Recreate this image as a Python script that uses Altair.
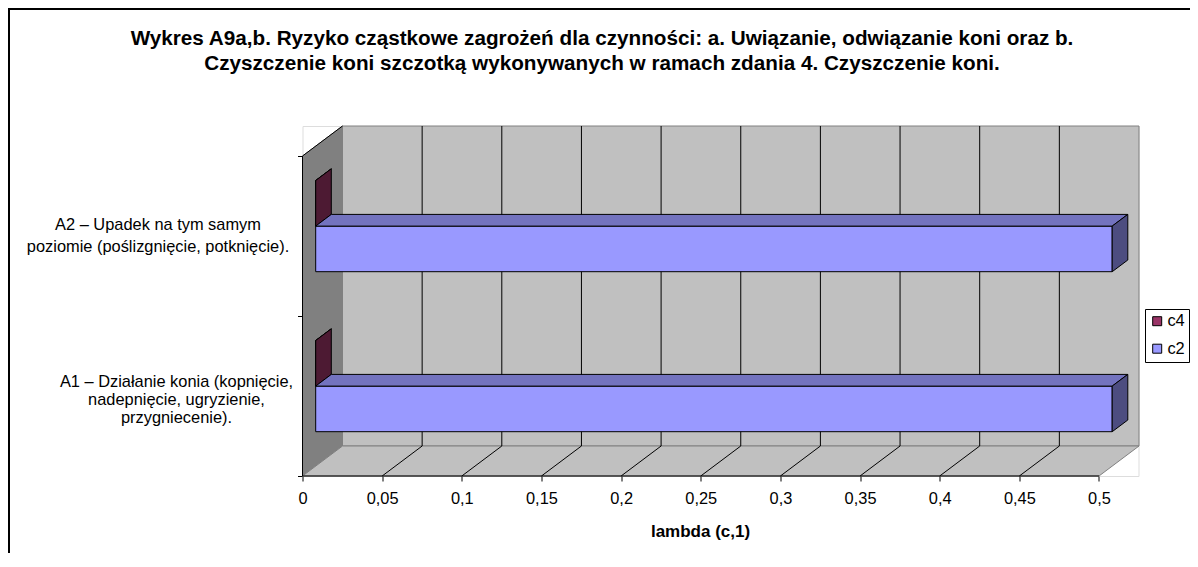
import altair as alt
import pandas as pd

# ------------------------------------------------------------------ data
categories = ["A1", "A2"]
category_labels = [
    "A1 – Działanie konia (kopnięcie,\nnadepnięcie, ugryzienie,\nprzygniecenie).",
    "A2 – Upadek na tym samym\npoziomie (poślizgnięcie, potknięcie).",
]
series = ["c4", "c2"]
c4_values = [0.0, 0.0]
c2_values = [0.5, 0.5]
x_ticks = [0, 0.05, 0.1, 0.15, 0.2, 0.25, 0.3, 0.35, 0.4, 0.45, 0.5]
x_title = "lambda (c,1)"
title_lines = [
    "Wykres A9a,b. Ryzyko cząstkowe zagrożeń dla czynności: a. Uwiązanie, odwiązanie koni oraz b.",
    "Czyszczenie koni szczotką wykonywanych w ramach zdania 4. Czyszczenie koni.",
]
series_colors = {"c4": "#993366", "c2": "#9999FF"}
top_colors = {"c4": "#73264D", "c2": "#7373BF"}
side_colors = {"c4": "#4D1A33", "c2": "#4D4D80"}

# ------------------------------------------------------------------ style / geometry
FONT = "Liberation Sans"
PLOT_W, PLOT_H = 836, 350
PX_PER_X = 1593.0          # pixels per value unit on the front plane
PX_PER_CAT = 160.0         # pixels per category band
DEPTH_PX_X, DEPTH_PX_Y = 40.0, 30.0
XMAX_V = x_ticks[-1]
NCAT = len(categories)
DX = DEPTH_PX_X / PX_PER_X
DY = DEPTH_PX_Y / PX_PER_CAT
X_DOMAIN = [0, PLOT_W / PX_PER_X]
Y_DOMAIN = [0, PLOT_H / PX_PER_CAT]
DF, DB = 0.33, 0.72        # bar front / back depth fractions
BAR_START, BAR_H = 0.215, 0.285
LABEL_DX = [-126, -144.5]
LABEL_DY = [-14.3, -11]
LABEL_LH = [18.3, 21.7]

xs = alt.Scale(domain=X_DOMAIN, nice=False, zero=False)
ys = alt.Scale(domain=Y_DOMAIN, nice=False, zero=False)

xaxis = alt.Axis(
    values=x_ticks,
    labelExpr="replace(format(datum.value, '~g'), '.', ',')",
    domain=False, grid=False, ticks=True, tickSize=5, tickColor="black",
    labelFontSize=16.4, labelFont=FONT, labelColor="black", labelPadding=9,
    labelFlush=False, labelOverlap=False,
    title=x_title, titleFontSize=17, titleFont=FONT, titleFontWeight="bold",
    titleColor="black", titleX=397.5, titleY=55, titleBaseline="middle",
    titleAnchor="start", titleAlign="center",
)
yaxis = alt.Axis(values=[0, 1, 2], labels=False, domain=False, grid=False,
                 tickSize=5, tickColor="black", title=None)


def X(f):
    return alt.X(f"{f}:Q", scale=xs, axis=xaxis)


def Y(f):
    return alt.Y(f"{f}:Q", scale=ys, axis=yaxis)


# ------------------------------------------------------------------ frame
border = alt.Chart(pd.DataFrame({"k": [0]})).mark_rect(
    filled=False, stroke="black", strokeWidth=2
).encode(x=alt.value(-293.5), x2=alt.value(2000), y=alt.value(-117), y2=alt.value(2000))

# ------------------------------------------------------------------ walls
back = alt.Chart(pd.DataFrame([{"x": DX, "x2": XMAX_V + DX, "y": DY, "y2": NCAT + DY}])).mark_rect(
    fill="#C0C0C0", stroke="#808080", strokeWidth=1
).encode(x=X("x"), x2="x2:Q", y=Y("y"), y2="y2:Q")

left_wall = alt.Chart(pd.DataFrame({"x": [0, DX], "y": [0, DY], "y2": [NCAT, NCAT + DY]})).mark_area(
    orient="vertical", fill="#808080", stroke="#808080", strokeWidth=1
).encode(x=X("x"), y=Y("y"), y2="y2:Q")

floor = alt.Chart(pd.DataFrame({"y": [0, DY], "x": [0, DX], "x2": [XMAX_V, XMAX_V + DX]})).mark_area(
    orient="horizontal", fill="#C0C0C0", stroke="#808080", strokeWidth=1
).encode(y=Y("y"), x=X("x"), x2="x2:Q")

inner = x_ticks[1:-1]
grid = alt.Chart(pd.DataFrame({"x": [v + DX for v in inner], "y": DY, "y2": NCAT + DY})).mark_rule(
    color="black", strokeWidth=1
).encode(x=X("x"), y=Y("y"), y2="y2:Q")

diag = alt.Chart(pd.DataFrame({"x": inner, "x2": [v + DX for v in inner], "y": 0.0, "y2": DY})).mark_rule(
    color="black", strokeWidth=1
).encode(x=X("x"), x2="x2:Q", y=Y("y"), y2="y2:Q")

edges = alt.Chart(pd.DataFrame([
    {"x": 0, "x2": 0, "y": 0, "y2": NCAT},
    {"x": 0, "x2": DX, "y": NCAT, "y2": NCAT + DY},
    {"x": 0, "x2": XMAX_V, "y": 0, "y2": 0},
])).mark_rule(color="black", strokeWidth=1).encode(x=X("x"), x2="x2:Q", y=Y("y"), y2="y2:Q")

# ------------------------------------------------------------------ bars
values = {"c4": c4_values, "c2": c2_values}
slots = {"c2": 0, "c4": 1}
layers = [border, back, left_wall, floor, grid, diag, edges]

for s in series:
    front_rows, top_rows, side_rows = [], [], []
    for i, cat in enumerate(categories):
        v = values[s][i]
        y0 = i + BAR_START + slots[s] * BAR_H
        y1 = y0 + BAR_H
        bid = f"{cat}-{s}"
        front_rows.append({"series": s, "x": DF * DX, "x2": v + DF * DX,
                           "y": y0 + DF * DY, "y2": y1 + DF * DY})
        for d in (DF, DB):
            top_rows.append({"id": bid, "fill": top_colors[s], "y": y1 + d * DY,
                             "x": d * DX, "x2": v + d * DX})
            side_rows.append({"id": bid, "fill": side_colors[s], "x": v + d * DX,
                              "y": y0 + d * DY, "y2": y1 + d * DY})
    front = alt.Chart(pd.DataFrame(front_rows)).mark_rect(stroke="black", strokeWidth=1).encode(
        x=X("x"), x2="x2:Q", y=Y("y"), y2="y2:Q",
        color=alt.Color("series:N",
                        scale=alt.Scale(domain=series, range=[series_colors[k] for k in series]),
                        legend=alt.Legend(
                            orient="none", legendX=842.5, legendY=183, title=None,
                            symbolType="square", symbolSize=81, symbolStrokeColor="black",
                            symbolStrokeWidth=1, labelFontSize=16.4, labelFont=FONT,
                            labelColor="black", strokeColor="black", fillColor="white",
                            padding=4, rowPadding=10.5, labelOffset=2)),
    )
    top = alt.Chart(pd.DataFrame(top_rows)).mark_area(
        orient="horizontal", stroke="black", strokeWidth=1
    ).encode(y=Y("y"), x=X("x"), x2="x2:Q", detail="id:N", fill=alt.Fill("fill:N", scale=None))
    side = alt.Chart(pd.DataFrame(side_rows)).mark_area(
        orient="vertical", stroke="black", strokeWidth=1
    ).encode(x=X("x"), y=Y("y"), y2="y2:Q", detail="id:N", fill=alt.Fill("fill:N", scale=None))
    layers += [front, top, side]

# ------------------------------------------------------------------ category labels
for i, lab in enumerate(category_labels):
    layers.append(
        alt.Chart(pd.DataFrame({"x": [0.0], "y": [i + 0.5], "label": [lab]})).mark_text(
            align="center", baseline="middle", dx=LABEL_DX[i], dy=LABEL_DY[i],
            lineBreak="\n", lineHeight=LABEL_LH[i], fontSize=16.4, font=FONT, color="black"
        ).encode(x=X("x"), y=Y("y"), text="label:N")
    )

chart = alt.layer(*layers).properties(
    width=PLOT_W, height=PLOT_H,
    autosize=alt.AutoSizeParams(type="none"),
    padding={"left": 294.5, "top": 118, "right": 51.5, "bottom": 77},
    title=alt.TitleParams(text=title_lines, fontSize=20.7, fontWeight="bold", font=FONT,
                          color="black", anchor="middle", dx=-118.5, offset=0, dy=67,
                          lineHeight=25.3),
).configure_view(stroke=None).configure(background="white")

chart.save("out.html", embed_options={"renderer": "svg", "actions": False})
